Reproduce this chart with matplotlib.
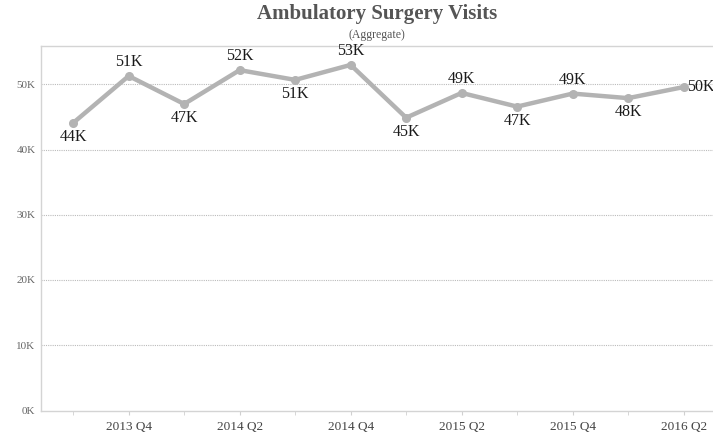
import matplotlib.pyplot as plt
from matplotlib.ticker import FuncFormatter

quarters = ['2013 Q3', '2013 Q4', '2014 Q1', '2014 Q2', '2014 Q3', '2014 Q4',
            '2015 Q1', '2015 Q2', '2015 Q3', '2015 Q4', '2016 Q1', '2016 Q2']
visits = [44100, 51300, 47000, 52200, 50700, 53000,
          44900, 48700, 46600, 48600, 47900, 49600]
label_pos = ['below', 'above', 'below', 'above', 'below', 'above',
             'below', 'above', 'below', 'above', 'below', 'right']

plt.rcParams['font.family'] = ['Liberation Serif', 'DejaVu Serif']

fig = plt.figure(figsize=(7.13, 4.34), dpi=100)
ax = fig.add_axes([41 / 713, 23 / 434, 672 / 713, 365 / 434])

x = list(range(len(quarters)))
ax.plot(x, visits, color='#b3b3b3', lw=3.2, marker='o', ms=5.5,
        solid_capstyle='round', zorder=3)

for xi, v, pos in zip(x, visits, label_pos):
    txt = f'{v / 1000:.0f}K'
    if pos == 'above':
        ax.annotate(txt, (xi, v), xytext=(0, 14), textcoords='offset pixels',
                    ha='center', va='center', fontsize=11.5, color='#1a1a1a')
    elif pos == 'below':
        ax.annotate(txt, (xi, v), xytext=(0, -14), textcoords='offset pixels',
                    ha='center', va='center', fontsize=11.5, color='#1a1a1a')
    else:
        ax.annotate(txt, (xi, v), xytext=(3, 0), textcoords='offset pixels',
                    ha='left', va='center', fontsize=11.5, color='#1a1a1a')

ax.set_xlim(-0.58, 11.53)
ax.set_ylim(-100, 55900)

ax.set_yticks([0, 10000, 20000, 30000, 40000, 50000])
ax.yaxis.set_major_formatter(FuncFormatter(lambda v, p: f'{v / 1000:.0f}K'))
ax.set_xticks(x[1::2])
ax.set_xticklabels(quarters[1::2])
ax.set_xticks(x[0::2], minor=True)

ax.tick_params(axis='y', length=0, labelsize=8, labelcolor='#666666', pad=4)
ax.tick_params(axis='x', which='major', length=3, color='#d0d0d0',
               labelsize=9.5, labelcolor='#444444', pad=4)
ax.tick_params(axis='x', which='minor', length=3, color='#d0d0d0')

for v in [10000, 20000, 30000, 40000, 50000]:
    ax.axhline(v, color='#bbbbbb', lw=0.8, ls=(0, (1, 1)), zorder=1)

for side in ['left', 'top', 'bottom']:
    ax.spines[side].set_color('#d4d4d4')
    ax.spines[side].set_linewidth(1)
ax.spines['right'].set_visible(False)

fig.text(377 / 713, 1 - 14 / 434, 'Ambulatory Surgery Visits', ha='center',
         va='center', fontsize=15, fontweight='bold', color='#555555')
fig.text(377 / 713, 1 - 35 / 434, '(Aggregate)', ha='center', va='center',
         fontsize=8.5, color='#555555')

fig.savefig('out.png', dpi=100)
